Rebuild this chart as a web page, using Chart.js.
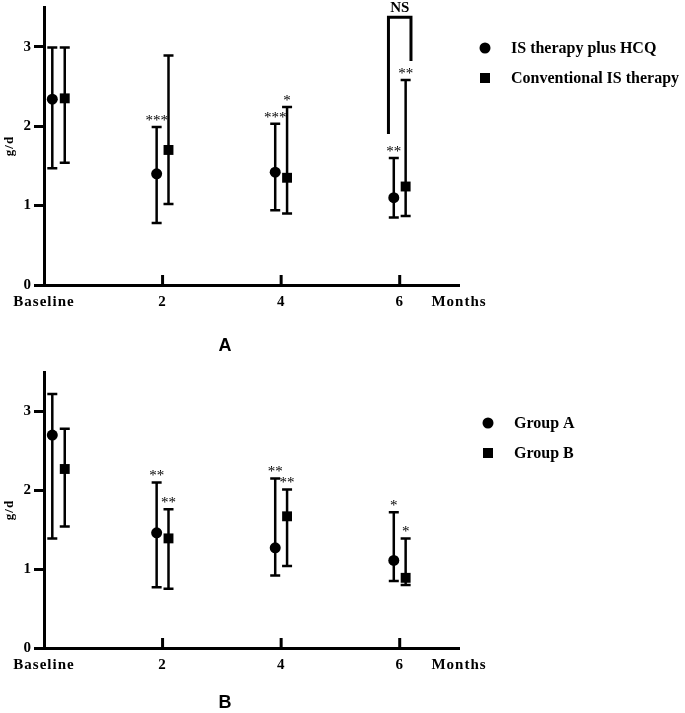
<!DOCTYPE html>
<html>
<head>
<meta charset="utf-8">
<script src="https://cdn.jsdelivr.net/npm/chart.js@4.4.1/dist/chart.umd.min.js"></script>
<style>
body { margin: 0; background: #fff; }
.panel { position: relative; width: 685px; }
canvas { display: block; }
</style>
</head>
<body>
<div class="panel" style="height:360px"><canvas id="chartA"></canvas></div>
<div class="panel" style="height:353px"><canvas id="chartB"></canvas></div>
<script>
// x axis: months since start, last tick only carries the unit
const tickValues = [0, 2, 4, 6, 7];
const tickLabels = ["Baseline", "2", "4", "6", "Months"];
const xFirst = [0.14, 1.9, 3.9, 5.9];   // dodged positions, first group
const xSecond = [0.35, 2.1, 4.1, 6.1];  // dodged positions, second group

// panel A
const hcqMean = [2.34, 1.40, 1.42, 1.10];
const hcqLow = [1.47, 0.78, 0.94, 0.85];
const hcqHigh = [2.99, 1.99, 2.03, 1.60];
const hcqStars = ["", "***", "***", "**"];
const convMean = [2.35, 1.70, 1.35, 1.24];
const convLow = [1.54, 1.02, 0.90, 0.87];
const convHigh = [2.99, 2.89, 2.24, 2.58];
const convStars = ["", "", "*", "**"];
const bracketX = [5.81, 5.81, 6.19, 6.19];
const bracketY = [1.90, 3.37, 3.37, 2.82];

// panel B
const groupAMean = [2.70, 1.46, 1.27, 1.11];
const groupALow = [1.39, 0.77, 0.92, 0.85];
const groupAHigh = [3.22, 2.10, 2.15, 1.72];
const groupAStars = ["", "**", "**", "*"];
const groupBMean = [2.27, 1.39, 1.67, 0.89];
const groupBLow = [1.54, 0.75, 1.04, 0.80];
const groupBHigh = [2.78, 1.76, 2.01, 1.39];
const groupBStars = ["", "**", "**", "*"];

const serif = "'Liberation Serif', 'Times New Roman', serif";

function points(xs, ys) {
  return xs.map((x, i) => ({x: x, y: ys[i]}));
}

// error bars, stars, inner x ticks, legend and panel letter
const extras = {
  id: 'extras',
  beforeDraw(chart) {
    chart.ctx.letterSpacing = '1px'; // axis labels in the figure are spaced out
  },
  beforeDatasetsDraw(chart) {
    const {ctx, scales: {x, y}} = chart;
    ctx.save();
    ctx.strokeStyle = '#000';
    ctx.lineWidth = 2.5;
    chart.data.datasets.forEach(ds => {
      if (!ds.low) return;
      ds.data.forEach((p, i) => {
        const px = x.getPixelForValue(p.x);
        const top = y.getPixelForValue(ds.high[i]);
        const bot = y.getPixelForValue(ds.low[i]);
        ctx.beginPath();
        ctx.moveTo(px, top); ctx.lineTo(px, bot);
        ctx.moveTo(px - 5, top); ctx.lineTo(px + 5, top);
        ctx.moveTo(px - 5, bot); ctx.lineTo(px + 5, bot);
        ctx.stroke();
      });
    });
    // small upward ticks on the x axis
    ctx.lineWidth = 3;
    x.ticks.forEach(t => {
      if (t.value <= x.min || t.value >= x.max) return;
      const px = x.getPixelForValue(t.value);
      ctx.beginPath();
      ctx.moveTo(px, y.bottom);
      ctx.lineTo(px, y.bottom - 10);
      ctx.stroke();
    });
    ctx.restore();
  },
  afterDatasetsDraw(chart, args, opts) {
    const {ctx, scales: {x, y}} = chart;
    ctx.save();
    ctx.letterSpacing = '0px';
    ctx.fillStyle = '#000';
    ctx.textAlign = 'center';
    ctx.textBaseline = 'middle';
    ctx.font = "15px " + serif;
    chart.data.datasets.forEach(ds => {
      if (!ds.stars) return;
      ds.data.forEach((p, i) => {
        if (!ds.stars[i]) return;
        ctx.fillText(ds.stars[i], x.getPixelForValue(p.x), y.getPixelForValue(ds.high[i]) - 6);
      });
    });
    if (opts.ns) {
      ctx.font = "bold 15px " + serif;
      ctx.fillText(opts.ns.text, x.getPixelForValue(opts.ns.x), y.getPixelForValue(opts.ns.y));
    }
    // legend
    ctx.textAlign = 'left';
    ctx.font = "bold 16px " + serif;
    opts.legend.forEach((item, i) => {
      const ly = opts.legendY + i * 30;
      if (item.style === 'circle') {
        ctx.beginPath();
        ctx.arc(opts.legendX, ly, 5.5, 0, Math.PI * 2);
        ctx.fill();
      } else {
        ctx.fillRect(opts.legendX - 5, ly - 5, 10, 10);
      }
      ctx.fillText(item.text, opts.legendX + 26, ly + 1);
    });
    ctx.font = "bold 18px 'Liberation Sans', Arial, sans-serif";
    ctx.textAlign = 'center';
    ctx.fillText(opts.letter, opts.letterX, opts.letterY);
    ctx.restore();
  }
};

function makePanel(id, cfg) {
  const datasets = [
    {
      label: cfg.labels[0],
      data: points(xFirst, cfg.meanA),
      low: cfg.lowA, high: cfg.highA, stars: cfg.starsA,
      pointStyle: 'circle', pointRadius: 5.5,
      backgroundColor: '#000', borderColor: '#000', borderWidth: 0
    },
    {
      label: cfg.labels[1],
      data: points(xSecond, cfg.meanB),
      low: cfg.lowB, high: cfg.highB, stars: cfg.starsB,
      pointStyle: 'rect', pointRadius: 7,
      backgroundColor: '#000', borderColor: '#000', borderWidth: 0
    }
  ];
  if (cfg.bracket) {
    datasets.push({
      label: 'bracket',
      data: points(cfg.bracket[0], cfg.bracket[1]),
      showLine: true, pointRadius: 0,
      borderColor: '#000', borderWidth: 3, fill: false
    });
  }
  return new Chart(id, {
    type: 'scatter',
    data: {datasets: datasets},
    options: {
      responsive: true,
      maintainAspectRatio: false,
      animation: false,
      events: [],
      layout: {padding: {top: cfg.top, right: 226, left: 0, bottom: 0}},
      plugins: {
        legend: {display: false},
        tooltip: {enabled: false},
        extras: {
          legend: [
            {text: cfg.labels[0], style: 'circle'},
            {text: cfg.labels[1], style: 'rect'}
          ],
          legendX: cfg.legendX, legendY: cfg.legendY,
          letter: cfg.letter, letterX: 225, letterY: cfg.letterY,
          ns: cfg.ns
        }
      },
      scales: {
        x: {
          type: 'linear',
          min: 0, max: 7,
          afterBuildTicks: s => { s.ticks = tickValues.map(v => ({value: v})); },
          afterFit: s => { s.height = cfg.xHeight; s.paddingLeft = 0; s.paddingRight = 0; },
          grid: {display: false, drawTicks: false},
          border: {display: true, width: 3, color: '#000'},
          ticks: {
            color: '#000',
            padding: 8,
            maxRotation: 0,
            autoSkip: false,
            font: {family: serif, size: 15, weight: 'bold'},
            callback: v => tickLabels[tickValues.indexOf(v)]
          }
        },
        y: {
          min: 0, max: 3.5,
          afterFit: s => { s.width = 44; s.paddingTop = 0; s.paddingBottom = 0; },
          grid: {drawOnChartArea: false, drawTicks: true, tickLength: 10, lineWidth: 3, color: '#000'},
          border: {display: true, width: 3, color: '#000'},
          title: {display: true, text: 'g/d', color: '#000', padding: 2,
                  font: {family: serif, size: 13, weight: 'bold'}},
          ticks: {
            stepSize: 1, includeBounds: false, color: '#000', padding: 2,
            font: {family: serif, size: 15, weight: 'bold'}
          }
        }
      }
    },
    plugins: [extras]
  });
}

makePanel('chartA', {
  labels: ['IS therapy plus HCQ', 'Conventional IS therapy'],
  meanA: hcqMean, lowA: hcqLow, highA: hcqHigh, starsA: hcqStars,
  meanB: convMean, lowB: convLow, highB: convHigh, starsB: convStars,
  bracket: [bracketX, bracketY],
  ns: {text: 'NS', x: 6, y: 3.48},
  top: 5, xHeight: 75,
  legendX: 485, legendY: 48,
  letter: 'A', letterY: 346
});

makePanel('chartB', {
  labels: ['Group A', 'Group B'],
  meanA: groupAMean, lowA: groupALow, highA: groupAHigh, starsA: groupAStars,
  meanB: groupBMean, lowB: groupBLow, highB: groupBHigh, starsB: groupBStars,
  top: 12, xHeight: 65,
  legendX: 488, legendY: 63,
  letter: 'B', letterY: 343
});
</script>
</body>
</html>
